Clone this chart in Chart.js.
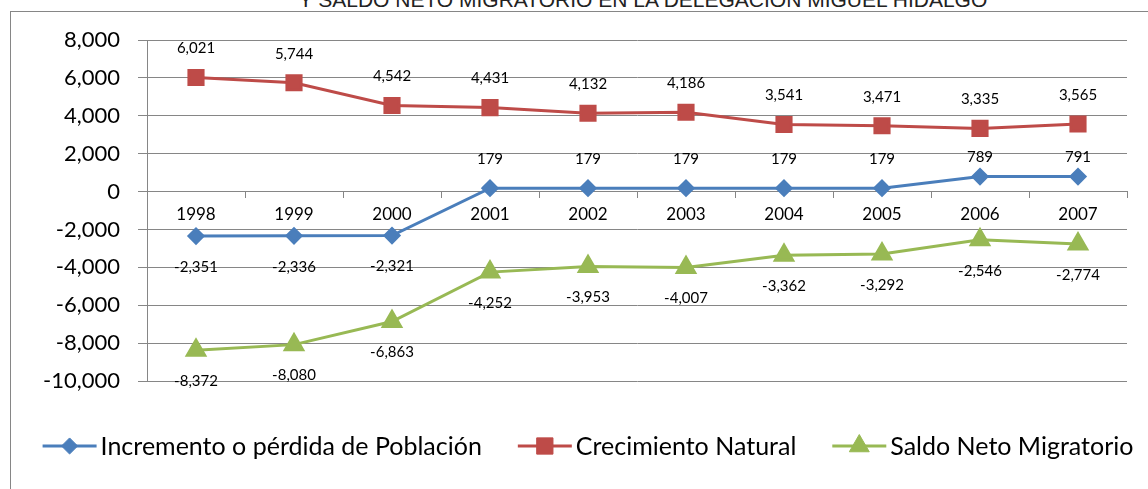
<!DOCTYPE html>
<html>
<head>
<meta charset="utf-8">
<script src="https://cdn.jsdelivr.net/npm/chart.js@4"></script>
<style>
  body { margin: 0; background: #fff; }
  #wrap { position: relative; width: 1148px; height: 489px; overflow: hidden; }
  #frame { position: absolute; left: 10px; top: 11px; width: 1200px; height: 600px;
           border-left: 1px solid #868686; border-top: 1px solid #868686; }
  #title { position: absolute; left: 243px; width: 800px; top: -11px; line-height: 22px; text-align: center;
           font-family: "Liberation Sans Narrow", "Liberation Sans", sans-serif; font-stretch: condensed;
           font-size: 21px; color: #222; white-space: nowrap; }
  canvas { position: absolute; left: 0; top: 0; }
</style>
</head>
<body>
<div id="wrap">
  <div id="frame"></div>
  <div id="title">Y SALDO NETO MIGRATORIO EN LA DELEGACIÓN MIGUEL HIDALGO</div>
  <canvas id="myChart" width="1148" height="489"></canvas>
</div>
<script>
// datos
const years = ['1998', '1999', '2000', '2001', '2002', '2003', '2004', '2005', '2006', '2007'];
const incremento = [-2351, -2336, -2321, 179, 179, 179, 179, 179, 789, 791];
const crecimiento = [6021, 5744, 4542, 4431, 4132, 4186, 3541, 3471, 3335, 3565];
const saldo = [-8372, -8080, -6863, -4252, -3953, -4007, -3362, -3292, -2546, -2774];
const yTicks = [-10000, -8000, -6000, -4000, -2000, 0, 2000, 4000, 6000, 8000];

const fontFam = 'Lato, "Open Sans", sans-serif';
const fmt = v => v.toLocaleString('en-US');

// etiquetas de datos (arriba / abajo)
const dataLabels = {
  id: 'dataLabels',
  afterDatasetsDraw(chart) {
    const ctx = chart.ctx;
    ctx.save();
    ctx.font = '15px ' + fontFam;
    ctx.fillStyle = '#000';
    ctx.textAlign = 'center';
    ctx.textBaseline = 'middle';
    chart.data.datasets.forEach((ds, i) => {
      const meta = chart.getDatasetMeta(i);
      meta.data.forEach((pt, j) => {
        const v = ds.data[j];
        let below = ds.labelSide == 'below' || (ds.labelSide == 'auto' && v < 0);
        let y = below ? pt.y + 31 : pt.y - 29;
        // en el original las etiquetas positivas de la serie azul quedan a la misma altura
        if (ds.labelSide == 'auto' && !below) y = Math.max(y, chart.scales.y.getPixelForValue(0) - 34);
        ctx.fillText(fmt(v), pt.x, y);
      });
    });
    ctx.restore();
  }
};

// leyenda dibujada a mano (linea + marcador)
const lineLegend = {
  id: 'lineLegend',
  afterDraw(chart) {
    const ctx = chart.ctx;
    ctx.save();
    ctx.font = '25px ' + fontFam;
    ctx.textBaseline = 'middle';
    const lineW = 54, gapText = 4, gapItem = 36, cy = 446;
    const items = chart.data.datasets.map(ds => ({ ds: ds, w: lineW + gapText + ctx.measureText(ds.label).width }));
    let total = items.reduce((a, b) => a + b.w, 0) + gapItem * (items.length - 1);
    let x = 588 - total / 2;
    items.forEach(it => {
      const ds = it.ds;
      ctx.strokeStyle = ds.borderColor;
      ctx.lineWidth = 3;
      ctx.beginPath();
      ctx.moveTo(x, cy);
      ctx.lineTo(x + lineW, cy);
      ctx.stroke();
      ctx.fillStyle = ds.pointBackgroundColor;
      ctx.strokeStyle = ds.pointBackgroundColor;
      ctx.lineWidth = 1;
      Chart.helpers.drawPoint(ctx, { pointStyle: ds.pointStyle, radius: ds.pointRadius * 1.15, borderWidth: 1 }, x + lineW / 2, cy);
      ctx.fillStyle = '#000';
      ctx.fillText(ds.label, x + lineW + gapText, cy + 1);
      x += it.w + gapItem;
    });
    ctx.restore();
  }
};

new Chart(document.getElementById('myChart'), {
  type: 'line',
  data: {
    labels: years,
    datasets: [
      {
        label: 'Incremento o pérdida de Población',
        data: incremento,
        borderColor: '#4A7EBB', backgroundColor: '#4A7EBB',
        pointBackgroundColor: '#4A7EBB', pointBorderColor: '#4A7EBB',
        pointStyle: 'rectRot', pointRadius: 7, borderWidth: 3,
        labelSide: 'auto'
      },
      {
        label: 'Crecimiento Natural',
        data: crecimiento,
        borderColor: '#BE4B48', backgroundColor: '#BE4B48',
        pointBackgroundColor: '#BE4B48', pointBorderColor: '#BE4B48',
        pointStyle: 'rect', pointRadius: 10, borderWidth: 3,
        labelSide: 'above'
      },
      {
        label: 'Saldo Neto Migratorio',
        data: saldo,
        borderColor: '#98B954', backgroundColor: '#98B954',
        pointBackgroundColor: '#98B954', pointBorderColor: '#98B954',
        pointStyle: 'triangle', pointRadius: 10, borderWidth: 3,
        labelSide: 'below'
      }
    ]
  },
  plugins: [dataLabels, lineLegend],
  options: {
    responsive: false,
    animation: false,
    layout: { padding: { left: 0, right: 21, top: 40, bottom: 108 } },
    plugins: {
      legend: { display: false },
      tooltip: { enabled: false }
    },
    elements: { line: { tension: 0 } },
    scales: {
      x: {
        position: { y: 0 },
        offset: true,
        grid: { offset: true, drawOnChartArea: false, drawTicks: true, tickLength: 6, color: '#868686', lineWidth: 1 },
        border: { color: '#868686', width: 1 },
        ticks: { color: '#000', font: { family: fontFam, size: 17 }, padding: 7, maxRotation: 0 }
      },
      y: {
        min: -10000, max: 8000,
        afterFit(scale) { scale.width = 147; },
        afterBuildTicks(scale) { scale.ticks = yTicks.map(v => ({ value: v })); },
        grid: { color: '#868686', lineWidth: 1, tickLength: 9 },
        border: { color: '#868686', width: 1 },
        ticks: { color: '#000', font: { family: fontFam, size: 22 }, padding: 18, callback: v => fmt(v) }
      }
    }
  }
});
</script>
</body>
</html>
